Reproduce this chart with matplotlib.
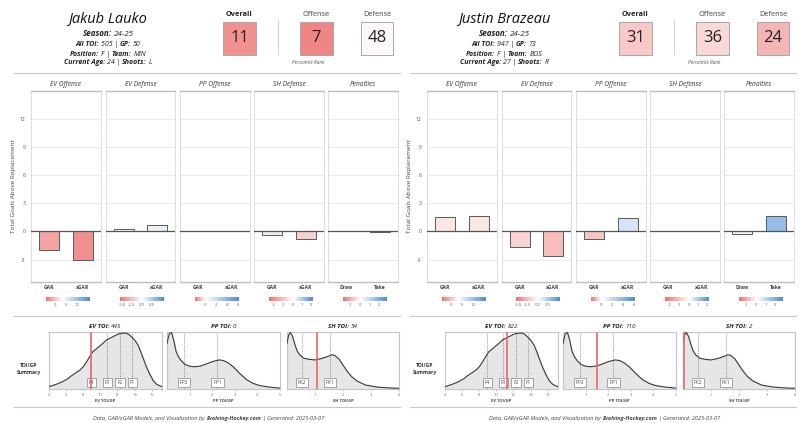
import numpy as np
import matplotlib
matplotlib.use('Agg')
import matplotlib.pyplot as plt
from matplotlib.colors import LinearSegmentedColormap, TwoSlopeNorm, Normalize
from matplotlib.patches import Rectangle
from matplotlib.lines import Line2D

W, H = 800, 423
plt.rcParams['font.family'] = ['Open Sans', 'DejaVu Sans']

# ---------------- data ----------------
players = ["Jakub Lauko", "Justin Brazeau"]
seasons = ["24-25", "24-25"]
all_toi = [505, 947]
games = [50, 73]
positions = ["F", "F"]
teams = ["MIN", "BOS"]
ages = [24, 27]
shoots = ["L", "R"]

pct_labels = ["Overall", "Offense", "Defense"]
lauko_pct = [11, 7, 48]
brazeau_pct = [31, 36, 24]

panels = ["EV Offense", "EV Defense", "PP Offense", "SH Defense", "Penalties"]
bar_cats = [["GAR", "xGAR"], ["GAR", "xGAR"], ["GAR", "xGAR"], ["GAR", "xGAR"], ["Draw", "Take"]]
lauko_gar = [[-2.0, -3.0], [0.3, 0.7], [0.02, 0.03], [-0.4, -0.85], [0.02, -0.05]]
brazeau_gar = [[1.5, 1.6], [-1.7, -2.6], [-0.8, 1.4], [0.02, 0.05], [-0.25, 1.6]]

cbar_lo = [-4.5, -5.5, -1.9, -2.6, -1.9]
cbar_mid = [2.8, 0.0, 0.0, 0.0, 0.0]
cbar_hi = [15.3, 5.5, 6.1, 2.1, 2.8]
cbar_ticks = [[0, 5, 10], [-5.0, -2.5, 0.0, 2.5], [0, 2, 4, 6], [-2, -1, 0, 1, 2], [-1, 0, 1, 2]]
cbar_ticklabels = [["0", "5", "10"], ["-5.0", "-2.5", "0.0", "2.5"], ["0", "2", "4", "6"],
                   ["-2", "-1", "0", "1", "2"], ["-1", "0", "1", "2"]]

toi_names = ["EV TOI", "PP TOI", "SH TOI"]
toi_xlabels = ["EV TOI/GP", "PP TOI/GP", "SH TOI/GP"]
lauko_toi = [445, 0, 54]
brazeau_toi = [822, 110, 2]

ev_x = [4.0, 4.8, 5.6, 6.2, 6.6, 7.1, 7.6, 8.0, 8.4, 8.8, 9.1, 9.5, 9.9, 10.3, 10.7, 11.1, 11.5,
        11.9, 12.2, 12.6, 13.0, 13.3, 13.6, 14.0, 14.4, 14.7, 15.0, 15.4, 15.8, 16.2, 16.6, 17.2]
ev_y = [0.04, 0.08, 0.13, 0.18, 0.23, 0.28, 0.33, 0.39, 0.48, 0.58, 0.65, 0.70, 0.75, 0.80, 0.86,
        0.89, 0.92, 0.95, 0.97, 0.98, 0.98, 0.96, 0.92, 0.86, 0.77, 0.66, 0.54, 0.38, 0.25, 0.14,
        0.08, 0.04]
pp_x = [0.0, 0.1, 0.2, 0.3, 0.4, 0.5, 0.64, 0.8, 1.0, 1.2, 1.45, 1.75, 2.0, 2.3, 2.5, 2.7, 2.93,
        3.2, 3.5, 3.8, 4.1, 4.5, 5.0]
pp_y = [0.80, 0.97, 0.99, 0.85, 0.66, 0.57, 0.49, 0.43, 0.40, 0.39, 0.40, 0.44, 0.48, 0.51, 0.50,
        0.46, 0.39, 0.28, 0.17, 0.10, 0.06, 0.035, 0.015]
sh_x = [0.0, 0.06, 0.12, 0.2, 0.27, 0.35, 0.45, 0.6, 0.8, 1.0, 1.2, 1.4, 1.6, 1.7, 1.85, 2.0,
        2.15, 2.3, 2.5, 2.8, 3.2, 3.6, 4.0]
sh_y = [0.80, 0.95, 0.99, 0.92, 0.80, 0.68, 0.60, 0.54, 0.52, 0.51, 0.53, 0.56, 0.60, 0.59, 0.53,
        0.42, 0.31, 0.22, 0.14, 0.07, 0.035, 0.02, 0.012]
dens_x = [ev_x, pp_x, sh_x]
dens_y = [ev_y, pp_y, sh_y]
dens_xlim = [(4, 17.2), (0, 5), (0, 4)]
dens_ticks = [[4, 6, 8, 10, 12, 14, 16], [1, 2, 3, 4, 5], [1, 2, 3, 4]]
ref_labels = [["F4", "F3", "F2", "F1"], ["PP2", "PP1"], ["PK2", "PK1"]]
ref_vals = [[8.95, 10.8, 12.3, 13.75], [0.75, 2.23], [0.54, 1.53]]

# ---------------- style ----------------
cmap = LinearSegmentedColormap.from_list("rwb", ["#ee7272", "#ffffff", "#4a8bd6"])

fig = plt.figure(figsize=(W / 100, H / 100), dpi=100)
fig.patch.set_facecolor("white")
renderer = fig.canvas.get_renderer()


def fy(y):
    return 1 - y / H


def add_ax(x0, y0, x1, y1):
    return fig.add_axes([x0 / W, 1 - y1 / H, (x1 - x0) / W, (y1 - y0) / H])


def hline(x0, x1, y, color="#c8c8c8", lw=0.8):
    fig.add_artist(Line2D([x0 / W, x1 / W], [fy(y), fy(y)], color=color, lw=lw))


def rich(x, y, parts, size, color="#222222"):
    objs, widths, gaps = [], [], []
    for txt, bold, ital in parts:
        lead = txt.startswith(" ")
        t = fig.text(0, fy(y), txt.strip(), fontsize=size,
                     fontweight="bold" if bold else "normal",
                     fontstyle="italic" if ital else "normal",
                     color=color, ha="left", va="center")
        widths.append(t.get_window_extent(renderer).width)
        gaps.append(size * 0.26 * 100 / 72 if lead else 0.0)
        objs.append(t)
    cur = x - (sum(widths) + sum(gaps)) / 2
    for t, w, g in zip(objs, widths, gaps):
        cur += g
        t.set_x(cur / W)
        cur += w


panel_x = [(31, 101), (106, 175), (180, 250), (254, 324), (328, 398)]
dens_px = [(49, 162), (167, 280), (287, 399)]
box_x = [(223, 256), (300, 333), (361, 393)]

pcts = [lauko_pct, brazeau_pct]
gars = [lauko_gar, brazeau_gar]
tois = [lauko_toi, brazeau_toi]
pnorm = Normalize(0, 100)

for p in range(2):
    dx = 396 * p
    cx = 108 + dx
    # ---- header ----
    fig.text(cx / W, fy(19), players[p], fontsize=10.5, fontstyle="italic",
             color="#111111", ha="center", va="center")
    rich(cx, 34, [("Season:", True, True), (" " + seasons[p], False, True)], 5.8)
    rich(cx, 44.5, [("All TOI:", True, True), (" %d |" % all_toi[p], False, True),
                    (" GP:", True, True), (" %d" % games[p], False, True)], 5.0)
    rich(cx, 54, [("Position:", True, True), (" %s |" % positions[p], False, True),
                  (" Team:", True, True), (" " + teams[p], False, True)], 5.0)
    rich(cx, 63, [("Current Age:", True, True), (" %d |" % ages[p], False, True),
                  (" Shoots:", True, True), (" " + shoots[p], False, True)], 5.0)

    for i, (x0, x1) in enumerate(box_x):
        bx0, bx1 = x0 + dx, x1 + dx
        ax = add_ax(bx0, 22, bx1, 55)
        ax.set_xlim(0, 1)
        ax.set_ylim(0, 1)
        ax.axis("off")
        ax.add_patch(Rectangle((0, 0), 1, 1, facecolor=cmap(pnorm(pcts[p][i])),
                               edgecolor="#a8a8a8", lw=0.7, transform=ax.transAxes, clip_on=False))
        ax.text(0.5, 0.5, str(pcts[p][i]), fontsize=12, color="#222222",
                ha="center", va="center", transform=ax.transAxes)
        fig.text((bx0 + bx1) / 2 / W, fy(15), pct_labels[i], fontsize=5.3,
                 fontweight="bold" if i == 0 else "normal",
                 color="#222222" if i == 0 else "#444444", ha="center", va="center")
    fig.add_artist(Line2D([(278 + dx) / W] * 2, [fy(20), fy(54)], color="#d0d0d0", lw=0.7))
    fig.text((308 + dx) / W, fy(63), "Percentile Rank", fontsize=3.4, fontstyle="italic",
             color="#555555", ha="center", va="center")

    hline(14 + dx, 400 + dx, 73)
    hline(14 + dx, 400 + dx, 316)
    hline(14 + dx, 400 + dx, 407)

    # ---- GAR bar panels ----
    for i, (x0, x1) in enumerate(panel_x):
        ax = add_ax(x0 + dx, 91, x1 + dx, 282)
        ax.set_xlim(-0.55, 1.55)
        ax.set_ylim(-5.4, 15.0)
        for g in [-3, 3, 6, 9, 12]:
            ax.axhline(g, color="#ececec", lw=0.8, zorder=0)
        norm = TwoSlopeNorm(vcenter=cbar_mid[i], vmin=cbar_lo[i], vmax=cbar_hi[i])
        vals = gars[p][i]
        ax.bar([0, 1], vals, width=0.6, color=[cmap(norm(v)) for v in vals],
               edgecolor="#5a5a5a", lw=0.7, zorder=3)
        ax.axhline(0, color="#555555", lw=0.9, zorder=4)
        ax.set_xticks([0, 1])
        ax.set_xticklabels(bar_cats[i], fontsize=3.6, fontweight="bold", color="#444444")
        ax.tick_params(axis="x", length=0, pad=2.5)
        if i == 0:
            ax.set_yticks([-3, 0, 3, 6, 9, 12])
            ax.set_yticklabels(["-3", "0", "3", "6", "9", "12"], fontsize=3.6, color="#555555")
            ax.tick_params(axis="y", length=0, pad=4)
            ax.set_ylabel("Total Goals Above Replacement", fontsize=4.6, color="#444444",
                          labelpad=3)
        else:
            ax.set_yticks([])
        for s in ["top", "bottom"]:
            ax.spines[s].set_color("#bdbdbd")
            ax.spines[s].set_linewidth(1.0)
        for s in ["left", "right"]:
            ax.spines[s].set_color("#cfcfcf")
            ax.spines[s].set_linewidth(0.6)
            ax.spines[s].set_linestyle((0, (1, 1.5)))
        ax.set_title(panels[i], fontsize=4.8, fontstyle="italic", color="#333333", pad=3.5)

        # colorbar
        ccx = (x0 + x1) / 2 + 1.3 + dx
        cax = add_ax(ccx - 21.8, 297, ccx + 21.8, 301)
        grad = np.linspace(cbar_lo[i], cbar_hi[i], 256)[None, :]
        cax.imshow(grad, cmap=cmap, norm=norm, aspect="auto",
                   extent=(cbar_lo[i], cbar_hi[i], 0, 1))
        cax.set_xlim(cbar_lo[i], cbar_hi[i])
        cax.set_yticks([])
        cax.set_xticks(cbar_ticks[i])
        cax.set_xticklabels(cbar_ticklabels[i], fontsize=3.0, color="#555555")
        cax.tick_params(axis="x", length=0, pad=1.5)
        for s in cax.spines.values():
            s.set_visible(False)

    # ---- TOI density panels ----
    fig.text((29 + dx) / W, fy(369), "TOI/GP\nSummary", fontsize=3.6, fontweight="bold",
             color="#333333", ha="center", va="center", linespacing=1.6)
    for j, (x0, x1) in enumerate(dens_px):
        ax = add_ax(x0 + dx, 332, x1 + dx, 389)
        ax.fill_between(dens_x[j], dens_y[j], 0, color="#e6e6e6", zorder=1)
        ax.plot(dens_x[j], dens_y[j], color="#3a3a3a", lw=0.8, zorder=3)
        ax.set_xlim(*dens_xlim[j])
        ax.set_ylim(0, 1.0)
        for lab, v in zip(ref_labels[j], ref_vals[j]):
            ax.axvline(v, color="#777777", lw=0.5, ls=(0, (1.5, 1.5)), zorder=2)
            ax.text(v, 0.11, lab, fontsize=3.3, color="#444444", ha="center", va="center",
                    zorder=5, bbox=dict(boxstyle="square,pad=0.45", fc="white",
                                        ec="#777777", lw=0.45))
        rate = tois[p][j] / games[p]
        if tois[p][j] > 0:
            ax.axvline(rate, color="#e86a6a", lw=1.2, zorder=6)
        ax.set_yticks([])
        ax.set_xticks(dens_ticks[j])
        ax.set_xticklabels([str(t) for t in dens_ticks[j]], fontsize=3.0, color="#777777")
        ax.tick_params(axis="x", length=1.5, width=0.4, color="#aaaaaa", pad=1.5)
        ax.set_xlabel(toi_xlabels[j], fontsize=3.0, fontweight="bold", color="#444444",
                      labelpad=1.5)
        for s in ax.spines.values():
            s.set_color("#c4c4c4")
            s.set_linewidth(0.8)
        rich((x0 + x1) / 2 + dx, 326, [(toi_names[j] + ":", True, True),
                                       (" %d" % tois[p][j], False, True)], 4.5)

    rich(209 + dx, 418, [("Data, GAR/xGAR Models, and Visualization by", False, True),
                         (" Evolving-Hockey.com", True, True), (" |", False, False),
                         (" Generated: 2025-03-07", False, True)], 4.1, "#444444")

fig.savefig("out.png", dpi=100, facecolor="white")
